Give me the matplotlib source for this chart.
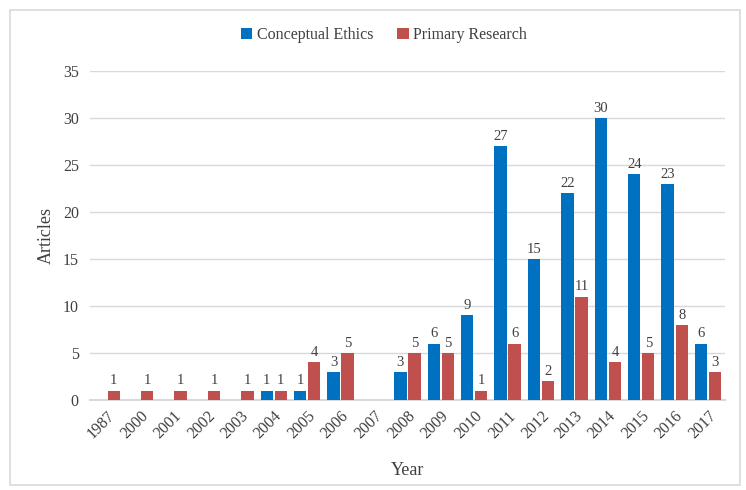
import matplotlib
matplotlib.use("Agg")

import matplotlib.pyplot as plt
import numpy as np
from matplotlib.patches import Rectangle

plt.rcParams['font.family'] = ['Liberation Serif', 'DejaVu Serif']

# Article counts per year
years = ["1987", "2000", "2001", "2002", "2003", "2004", "2005", "2006", "2007",
         "2008", "2009", "2010", "2011", "2012", "2013", "2014", "2015", "2016", "2017"]
conceptual = [0, 0, 0, 0, 0, 1, 1, 3, 0, 3, 6, 9, 27, 15, 22, 30, 24, 23, 6]
primary = [1, 1, 1, 1, 1, 1, 4, 5, 0, 5, 5, 1, 6, 2, 11, 4, 5, 8, 3]

BLUE = "#0070C0"
RED = "#C0504D"
TEXT = "#404040"
GRID = "#D9D9D9"

fig = plt.figure(figsize=(7.46, 4.90), dpi=100)
ax = fig.add_axes([0.1206, 0.1837, 0.851, 0.6713])

# outer chart frame
fig.patches.append(Rectangle((10 / 746, 5 / 490), 730 / 746, 475 / 490,
                             transform=fig.transFigure, fill=False,
                             edgecolor=GRID, linewidth=1.2))

x = np.arange(len(years))
w = 0.37
gap = 0.025
b1 = ax.bar(x - w / 2 - gap, conceptual, w, color=BLUE, label="Conceptual Ethics", zorder=3)
b2 = ax.bar(x + w / 2 + gap, primary, w, color=RED, label="Primary Research", zorder=3)

# value labels above non-zero bars
for bars, vals in ((b1, conceptual), (b2, primary)):
    for rect, v in zip(bars, vals):
        if v > 0:
            ax.text(rect.get_x() + rect.get_width() / 2, v + 0.35, str(v),
                    ha="center", va="bottom", fontsize=10.5, color=TEXT)

ax.set_xlim(-0.5, len(years) - 0.5)
ax.set_ylim(0, 35)
ax.set_yticks(range(0, 36, 5))
ax.set_xticks(x)
ax.set_xticklabels(years, rotation=45, ha="right", rotation_mode="anchor")
ax.tick_params(axis="both", length=0, labelsize=11.5, colors=TEXT, pad=8)
ax.tick_params(axis="x", pad=6)

ax.grid(axis="y", color=GRID, linewidth=1, zorder=0)
for s in ("top", "right", "left"):
    ax.spines[s].set_visible(False)
ax.spines["bottom"].set_color(GRID)
ax.spines["bottom"].set_linewidth(1.5)

ax.set_xlabel("Year", fontsize=13, color=TEXT, labelpad=14)
ax.set_ylabel("Articles", fontsize=13, color=TEXT, labelpad=6)

fig.legend(handles=[b1, b2], loc="center", bbox_to_anchor=(0.515, 0.928),
           ncol=2, frameon=False, fontsize=11.5, handlelength=0.7, handleheight=0.7,
           handletextpad=0.3, columnspacing=1.5, labelcolor=TEXT)

fig.savefig("out.png", dpi=100)
